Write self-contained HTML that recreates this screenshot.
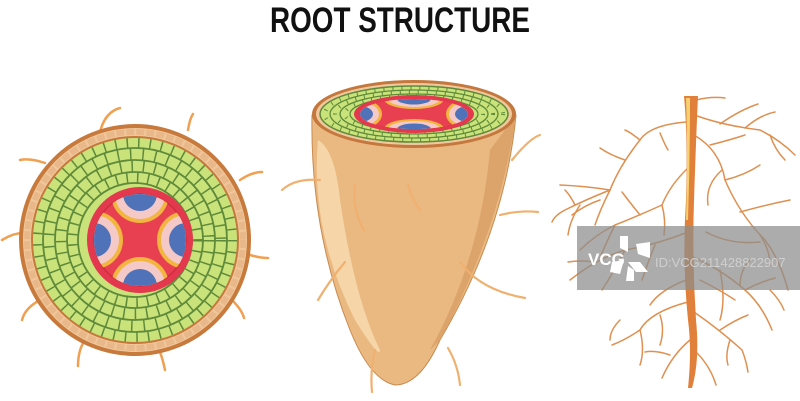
<!DOCTYPE html>
<html><head><meta charset="utf-8"><style>
html,body{margin:0;padding:0;background:#fff;}
svg{display:block}
</style></head><body>
<svg width="800" height="401" viewBox="0 0 800 401" xmlns="http://www.w3.org/2000/svg">
<defs>
<clipPath id="core"><circle cx="140" cy="240" r="46"/></clipPath>
<clipPath id="mcore"><ellipse cx="414" cy="114" rx="54" ry="15"/></clipPath>
</defs>
<text x="270" y="32" textLength="260" lengthAdjust="spacingAndGlyphs" font-family="Liberation Sans, sans-serif" font-weight="bold" font-size="35" fill="#111">ROOT STRUCTURE</text>

<!-- LEFT cross-section -->
<g fill="none" stroke="#f0a050" stroke-width="2.5" stroke-linecap="round">
<path d="M100 132 Q105 112 120 108"/><path d="M188 130 Q190 118 193 114"/>
<path d="M45 163 Q30 158 20 160"/><path d="M240 180 Q252 172 262 172"/><path d="M27 233 Q15 232 2 240"/>
<path d="M250 255 Q260 258 268 258"/><path d="M40 300 Q25 308 22 320"/><path d="M232 300 Q242 310 244 318"/>
<path d="M85 340 Q78 350 78 366"/><path d="M160 352 Q163 360 165 370"/>
</g>
<circle cx="135" cy="240" r="116" fill="#c77a3c"/>
<circle cx="135" cy="240" r="112" fill="#f0c79a"/>
<circle cx="135" cy="240" r="108" fill="none" stroke="#e8b88a" stroke-width="6" stroke-dasharray="8 2"/>
<circle cx="135" cy="240" r="104" fill="#c7783c"/>
<circle cx="135" cy="240" r="102" fill="#c9e27a"/>
<g fill="none" stroke="#5f8a3a" stroke-width="1.8">
<circle cx="135" cy="240" r="92"/><circle cx="135" cy="240" r="80"/><circle cx="135" cy="240" r="68"/><circle cx="135" cy="240" r="57"/>
<circle cx="135" cy="240" r="97" stroke-width="10" stroke-dasharray="1.5 10"/>
<circle cx="135" cy="240" r="86" stroke-width="12" stroke-dasharray="1.5 11"/>
<circle cx="135" cy="240" r="74" stroke-width="12" stroke-dasharray="1.5 10"/>
<circle cx="135" cy="240" r="62" stroke-width="11" stroke-dasharray="1.5 9"/>
</g>
<circle cx="140" cy="240" r="53" fill="#e3384d"/>
<circle cx="140" cy="240" r="46" fill="#e84050" stroke="#c9283c" stroke-width="1"/>
<g clip-path="url(#core)">
<g><circle cx="140" cy="194" r="29" fill="#f2b640"/><circle cx="140" cy="194" r="25" fill="#f5c9c7"/><circle cx="140" cy="194" r="17" fill="#5072b8"/></g>
<g><circle cx="140" cy="286" r="29" fill="#f2b640"/><circle cx="140" cy="286" r="25" fill="#f5c9c7"/><circle cx="140" cy="286" r="17" fill="#5072b8"/></g>
<g><circle cx="94" cy="240" r="29" fill="#f2b640"/><circle cx="94" cy="240" r="25" fill="#f5c9c7"/><circle cx="94" cy="240" r="17" fill="#5072b8"/></g>
<g><circle cx="186" cy="240" r="29" fill="#f2b640"/><circle cx="186" cy="240" r="25" fill="#f5c9c7"/><circle cx="186" cy="240" r="17" fill="#5072b8"/></g>
</g>

<!-- MIDDLE root tip -->
<path d="M312 115 Q310 230 350 330 Q370 380 395 385 Q420 385 440 340 Q505 230 516 115 Z" fill="#eab981" stroke="#c98a4e" stroke-width="1"/>
<path d="M318 140 Q310 230 355 320 Q380 360 380 350 Q355 300 340 200 Q335 150 318 140Z" fill="#f6d6a8"/>
<path d="M440 340 Q500 230 516 115 L490 150 Q480 260 430 350Z" fill="#dca46b"/>
<g fill="none" stroke="#f0b070" stroke-width="2.2" stroke-linecap="round">
<path d="M320 180 Q295 178 282 190"/><path d="M512 160 Q530 138 540 135"/><path d="M500 215 Q520 210 538 212"/>
<path d="M460 262 Q480 290 525 298"/><path d="M345 262 Q330 280 318 300"/><path d="M355 185 Q352 210 364 230"/>
<path d="M408 185 Q412 200 420 210"/><path d="M375 350 Q370 370 372 392"/><path d="M448 348 Q458 365 460 385"/>
</g>
<ellipse cx="414" cy="114" rx="102" ry="34" fill="#c4783e"/>
<ellipse cx="414" cy="114" rx="98" ry="31" fill="#f0c89c"/>
<ellipse cx="414" cy="114" rx="94" ry="28" fill="#c9e27a" stroke="#5f8a3a" stroke-width="1.5"/>
<g fill="none" stroke="#5f8a3a" stroke-width="1.3">
<ellipse cx="414" cy="114" rx="84" ry="24"/><ellipse cx="414" cy="114" rx="74" ry="20"/><ellipse cx="414" cy="114" rx="64" ry="17"/>
<ellipse cx="414" cy="114" rx="89" ry="26" stroke-width="4" stroke-dasharray="1 8"/>
<ellipse cx="414" cy="114" rx="79" ry="22" stroke-width="4" stroke-dasharray="1 8"/>
<ellipse cx="414" cy="114" rx="69" ry="18" stroke-width="4" stroke-dasharray="1 8"/>
</g>
<ellipse cx="414" cy="114" rx="60" ry="19" fill="#e3384d"/>
<g clip-path="url(#mcore)">
<ellipse cx="414" cy="114" rx="54" ry="15" fill="#e84050"/>
<g><ellipse cx="414" cy="99" rx="30" ry="10" fill="#f2b640"/><ellipse cx="414" cy="99" rx="26" ry="8" fill="#f5c9c7"/><ellipse cx="414" cy="99" rx="17" ry="5.5" fill="#5072b8"/></g>
<g><ellipse cx="414" cy="129" rx="30" ry="10" fill="#f2b640"/><ellipse cx="414" cy="129" rx="26" ry="8" fill="#f5c9c7"/><ellipse cx="414" cy="129" rx="17" ry="5.5" fill="#5072b8"/></g>
<g><ellipse cx="360" cy="114" rx="22" ry="15" fill="#f2b640"/><ellipse cx="360" cy="114" rx="19" ry="12" fill="#f5c9c7"/><ellipse cx="360" cy="114" rx="13" ry="8" fill="#5072b8"/></g>
<g><ellipse cx="468" cy="114" rx="22" ry="15" fill="#f2b640"/><ellipse cx="468" cy="114" rx="19" ry="12" fill="#f5c9c7"/><ellipse cx="468" cy="114" rx="13" ry="8" fill="#5072b8"/></g>
</g>

<!-- RIGHT taproot -->
<g fill="none" stroke="#df9050" stroke-width="1.5" stroke-linecap="round">
<path d="M686 122 Q650 125 640 140 Q620 165 610 190 Q585 200 565 210 Q555 215 552 222"/>
<path d="M640 140 Q630 132 625 130"/><path d="M625 160 Q610 155 600 148"/><path d="M610 190 Q600 210 595 225"/><path d="M575 205 Q570 195 565 190"/>
<path d="M660 133 Q665 145 668 150"/><path d="M580 205 Q570 220 568 235"/>
<path d="M692 114 Q720 125 760 130 Q780 140 795 155"/><path d="M720 124 Q740 110 758 104"/><path d="M745 128 Q760 115 775 112"/><path d="M770 135 Q775 150 785 160"/>
<path d="M694 135 Q720 150 725 180 Q740 215 765 240 Q780 260 788 290"/><path d="M722 170 Q705 185 708 205"/><path d="M740 212 Q765 205 790 200"/><path d="M760 235 Q770 250 770 265"/>
<path d="M710 145 Q730 140 745 135"/><path d="M725 180 Q745 175 760 165"/>
<path d="M688 168 Q670 185 662 205 Q640 215 615 225 Q595 235 580 250"/><path d="M662 205 Q666 220 664 235"/><path d="M640 215 Q628 200 622 192"/><path d="M615 225 Q605 245 600 258"/>
<path d="M688 232 Q655 245 625 250 Q598 258 570 280"/><path d="M625 250 Q615 270 602 290"/><path d="M655 245 Q648 262 642 280"/><path d="M595 262 Q580 260 568 262"/>
<path d="M688 255 Q720 268 745 290 Q762 305 772 330"/><path d="M745 290 Q760 282 775 278"/><path d="M720 270 Q726 300 720 320"/><path d="M740 286 Q740 270 750 260"/>
<path d="M686 280 Q660 290 650 305"/><path d="M700 280 Q720 290 735 300"/>
<path d="M688 302 Q650 312 640 330 Q625 340 612 345"/><path d="M640 330 Q645 350 640 365"/><path d="M660 315 Q665 330 660 345"/>
<path d="M694 312 Q720 330 742 350 Q746 360 748 372"/><path d="M720 330 Q735 320 748 315"/><path d="M730 340 Q725 355 728 365"/>
<path d="M690 340 Q672 355 662 378"/><path d="M694 350 Q710 365 716 385"/><path d="M670 355 Q655 350 645 352"/>
<path d="M696 100 Q712 96 725 98"/><path d="M706 232 Q730 245 760 242"/><path d="M610 190 Q585 186 560 185"/>
<path d="M600 200 Q585 205 572 215"/><path d="M770 290 Q780 300 784 310"/><path d="M620 320 Q610 330 610 340"/>
</g>
<path d="M684 96 L698 96 Q696 140 694 200 Q692 260 696 320 Q700 360 692 388 L688 388 Q692 350 688 320 Q682 260 686 200 Q688 140 684 96Z" fill="#e0803a"/>
<path d="M686 98 L690 98 Q690 160 688 220 L686 220 Q688 160 686 98Z" fill="#f7d070"/>

<!-- watermark -->
<rect x="577" y="226" width="223" height="64" fill="#8c8c8c" opacity="0.72"/>
<text x="588" y="265" font-family="Liberation Sans, sans-serif" font-weight="bold" font-size="17" fill="#fff">VCG</text>
<g fill="#fff"><path d="M620 236 L628 236 L628 252 L620 248Z"/><path d="M636 244 L650 242 L650 258 L638 254Z"/><path d="M628 262 L640 262 L648 272 L636 272Z"/><path d="M612 262 L624 260 L620 274 L610 272Z"/><path d="M628 266 L634 270 L634 281 L626 281Z"/></g>
<text x="655" y="267" font-family="Liberation Sans, sans-serif" font-size="13" fill="#cfcfcf">ID:VCG211428822907</text>
</svg>
</body></html>
